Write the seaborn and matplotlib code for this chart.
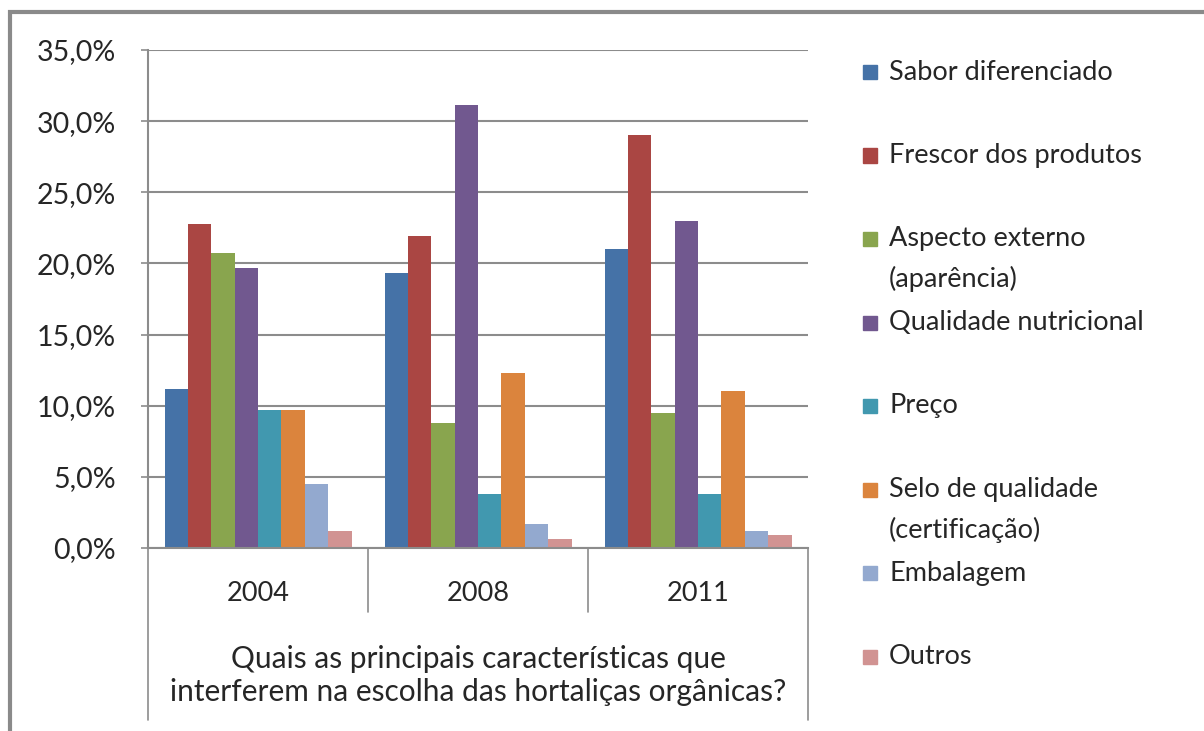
import matplotlib
matplotlib.use('Agg')
from matplotlib import pyplot as plt
from matplotlib.lines import Line2D
from matplotlib.patches import Rectangle
import pandas as pd
import seaborn as sns

years = ['2004', '2008', '2011']
features = [
    'Sabor diferenciado',
    'Frescor dos produtos',
    'Aspecto externo\n(aparência)',
    'Qualidade nutricional',
    'Preço',
    'Selo de qualidade\n(certificação)',
    'Embalagem',
    'Outros',
]
sabor = [11.2, 19.3, 21.0]
frescor = [22.8, 21.9, 29.0]
aspecto = [20.7, 8.8, 9.5]
qualidade = [19.7, 31.1, 23.0]
preco = [9.7, 3.8, 3.8]
selo = [9.7, 12.3, 11.0]
embalagem = [4.5, 1.7, 1.2]
outros = [1.2, 0.6, 0.9]
y_ticks = [0, 5, 10, 15, 20, 25, 30, 35]
x_title = 'Quais as principais características que\ninterferem na escolha das hortaliças orgânicas?'

colors = ['#4572A7', '#AA4643', '#89A54E', '#71588F', '#4198AF', '#DB843D', '#93A9CF', '#D19392']

series = [sabor, frescor, aspecto, qualidade, preco, selo, embalagem, outros]
df = pd.DataFrame(
    [(year, feat, val) for feat, vals in zip(features, series) for year, val in zip(years, vals)],
    columns=['ano', 'caracteristica', 'pct'],
)

sns.set_style('white')
plt.rcParams['font.family'] = ['Lato', 'DejaVu Sans']
FS = 19.5
GRID = '#8c8c8c'

W, H = 1204, 731
fig = plt.figure(figsize=(W / 100, H / 100), dpi=100)
ax = fig.add_axes([148 / W, 1 - 548 / H, 660 / W, 498 / H])

sns.barplot(data=df, x='ano', y='pct', hue='caracteristica', palette=colors,
            width=0.85, saturation=1, legend=False, ax=ax, edgecolor='none')

ax.set_ylim(0, 35)
ax.set_xlim(-0.5, 2.5)
ax.set_yticks(y_ticks)
ax.set_yticklabels([f'{t:.1f}%'.replace('.', ',') for t in y_ticks], fontsize=20.5)
ax.yaxis.grid(True, color=GRID, linewidth=1.5)
ax.set_axisbelow(True)
ax.tick_params(axis='y', left=True, length=5, width=1.2, color=GRID, pad=18)
ax.tick_params(axis='x', bottom=False, pad=20, labelsize=FS)
ax.set_ylabel('')
ax.set_xlabel(x_title, fontsize=21.5, labelpad=28, linespacing=1.25)
for side in ['top', 'right']:
    ax.spines[side].set_visible(False)
for side in ['left', 'bottom']:
    ax.spines[side].set_color(GRID)
    ax.spines[side].set_linewidth(1.5)

# category separators below the axis
tr = ax.get_xaxis_transform()
for xb in [0.5, 1.5]:
    ax.add_line(Line2D([xb, xb], [0, -64 / 498], transform=tr, color=GRID, lw=1.2, clip_on=False))
for xb in [-0.5, 2.5]:
    ax.add_line(Line2D([xb, xb], [0, -172 / 498], transform=tr, color=GRID, lw=1.2, clip_on=False))

# legend drawn entry by entry so wrapped labels keep Excel-like spacing
for i, (label, col) in enumerate(zip(features, colors)):
    yc = 72 + i * 83.5
    fig.patches.append(Rectangle((863 / W, 1 - (yc + 7) / H), 14 / W, 14 / H,
                                 transform=fig.transFigure, color=col))
    for j, line in enumerate(label.split('\n')):
        fig.text(889 / W, 1 - (yc + j * 40) / H, line, fontsize=FS, va='center', ha='left')

# outer chart frame
fig.patches.append(Rectangle((10 / W, -0.1), 1.2, 1 - 12 / H + 0.1, transform=fig.transFigure,
                             fill=False, edgecolor='#8a8a8a', lw=3))

fig.savefig('out.png', dpi=100)
